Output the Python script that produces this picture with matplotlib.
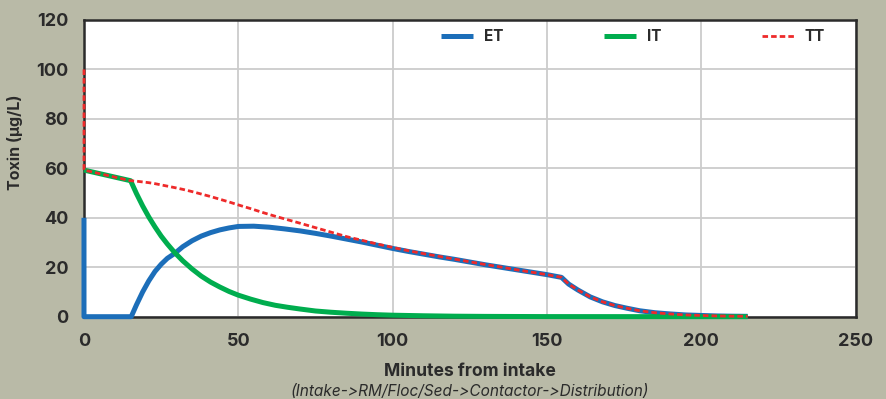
import matplotlib
matplotlib.use("Agg")
import matplotlib.pyplot as plt

# ---- data ----
et_t = [0, 0, 15.3, 17, 19, 21, 23, 25, 27, 29.4, 32, 35, 38, 41, 44, 47, 50, 55, 60, 65, 70, 75,
        80, 85, 90, 95, 100, 105, 110, 115, 120, 125, 130, 135, 140, 145, 150, 154.7, 157, 160,
        164, 168, 172, 176, 180, 185, 190, 195, 200, 205, 210, 215]
et_v = [40, 0, 0, 4.8, 10, 14.5, 18.3, 21.2, 23.6, 25.6, 28.3, 30.7, 32.6, 34.0, 35.1, 35.9, 36.5,
        36.6, 36.2, 35.5, 34.7, 33.7, 32.6, 31.4, 30.2, 28.9, 27.6, 26.4, 25.3, 24.2, 23.2, 22.1,
        21.0, 20.0, 19.0, 18.0, 17.0, 15.9, 13.2, 10.8, 8.0, 6.0, 4.5, 3.4, 2.4, 1.6, 1.1, 0.7,
        0.5, 0.3, 0.2, 0.15]

it_t = [0, 15.1, 17, 19, 21, 23, 25, 27, 29.4, 32, 35, 38, 41, 44, 47, 50, 54, 58, 62, 66, 70,
        75, 80, 85, 90, 95, 100, 110, 120, 130, 150, 215]
it_v = [59.3, 55.0, 49.8, 44.8, 40.3, 36.3, 32.6, 29.4, 25.9, 22.6, 19.3, 16.4, 14.0, 12.0, 10.2,
        8.7, 7.1, 5.7, 4.6, 3.8, 3.1, 2.3, 1.8, 1.4, 1.06, 0.8, 0.6, 0.37, 0.2, 0.12, 0.04, 0]

tt_t = [0, 0, 15.1, 17, 19, 21, 23, 25, 27, 29.4, 32, 35, 38, 41, 44, 47, 50, 54, 58, 62, 66, 70,
        75, 80, 85, 90, 95, 100, 105, 110, 115, 120, 125, 130, 135, 140, 145, 150, 154.7, 157,
        160, 164, 168, 172, 176, 180, 185, 190, 195, 200, 205, 210, 215]
tt_v = [100, 59.3, 55.0, 54.8, 54.5, 54.2, 53.8, 53.3, 52.8, 52.2, 51.5, 50.6, 49.6, 48.6, 47.5,
        46.4, 45.2, 43.7, 42.1, 40.6, 39.2, 37.8, 36.0, 34.2, 32.4, 30.9, 29.4, 28.0, 26.7, 25.5,
        24.4, 23.3, 22.2, 21.1, 20.1, 19.0, 18.0, 17.0, 15.9, 13.2, 10.8, 8.0, 6.0, 4.5, 3.4, 2.4,
        1.6, 1.1, 0.7, 0.5, 0.3, 0.2, 0.15]

x_ticks = [0, 50, 100, 150, 200, 250]
y_ticks = [0, 20, 40, 60, 80, 100, 120]

BG = "#b9baa7"
FONT = ["Inter", "DejaVu Sans"]
plt.rcParams['font.family'] = FONT

fig = plt.figure(figsize=(8.86, 3.99), dpi=100, facecolor=BG)
ax = fig.add_axes([0.0948, 0.2063, 0.8710, 0.7436])
ax.set_facecolor("white")

ax.plot(et_t, et_v, color="#1c6eb9", lw=3.6, label="ET", clip_on=False, zorder=4,
        solid_joinstyle="round", solid_capstyle="butt")
ax.plot(it_t, it_v, color="#00ad4e", lw=3.6, label="IT", clip_on=False, zorder=5,
        solid_joinstyle="round", solid_capstyle="butt")
ax.plot(tt_t, tt_v, color="#ee2a2a", lw=2.0, ls=(0, (2.0, 1.1)), label="TT",
        clip_on=False, zorder=6)

ax.set_xlim(0, 250)
ax.set_ylim(0, 120)
ax.set_xticks(x_ticks)
ax.set_yticks(y_ticks)
ax.grid(True, color="#cccccc", lw=1.3)
ax.set_axisbelow(True)
ax.tick_params(length=0, labelsize=13, colors="#2b2b2b")
ax.tick_params(axis='y', pad=11)
ax.tick_params(axis='x', pad=12)
for lab in ax.get_xticklabels() + ax.get_yticklabels():
    lab.set_fontweight("bold")
for s in ax.spines.values():
    s.set_color("#2b2b2b")
    s.set_linewidth(1.8)

leg = ax.legend(ncol=3, loc="center right", bbox_to_anchor=(0.960, 0.943), frameon=False,
                borderaxespad=0, borderpad=0, handlelength=2.1, handletextpad=0.7,
                columnspacing=6.6, prop={"size": 11, "weight": "bold"})
for t in leg.get_texts():
    t.set_color("#2b2b2b")

fig.text(0.5303, 1 - 371.5 / 399, "Minutes from intake", ha="center", va="center",
         fontsize=12.6, fontweight="bold", color="#2b2b2b")
fig.text(0.5303, 1 - 391.5 / 399, "(Intake->RM/Floc/Sed->Contactor->Distribution)",
         ha="center", va="center", fontsize=11.1, style="italic", color="#2b2b2b")
fig.text(15.5 / 886, 1 - 142.5 / 399, "Toxin (µg/L)", rotation=90, ha="center", va="center",
         fontsize=11.5, fontweight="bold", color="#2b2b2b")

fig.savefig("out.png", dpi=100, facecolor=BG)
